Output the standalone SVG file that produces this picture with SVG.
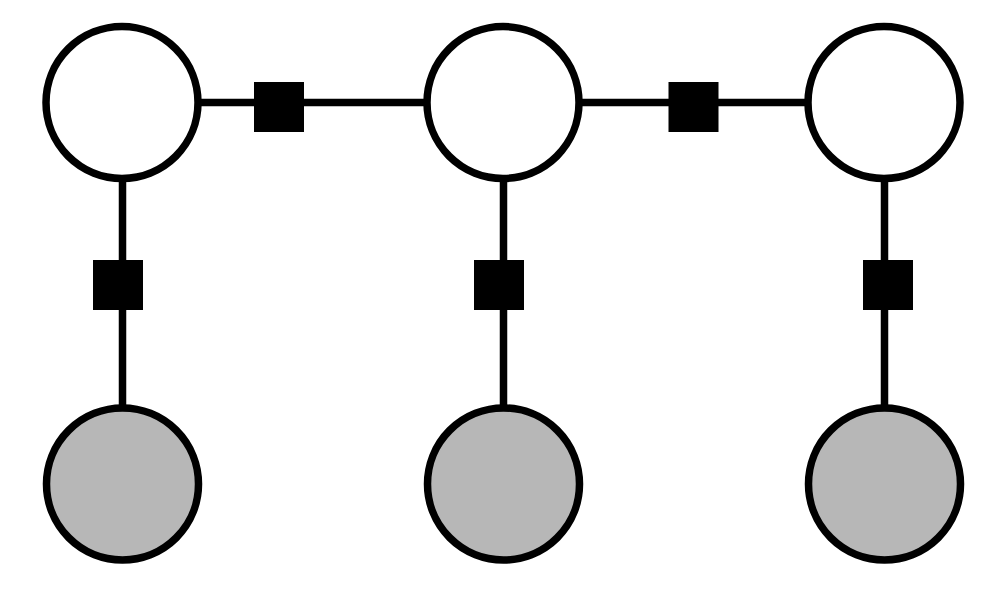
<svg xmlns="http://www.w3.org/2000/svg" width="1000" height="600" viewBox="0 0 1000 600">
<style>
.edge{stroke:#000;stroke-width:7.5;fill:none}
.var{stroke:#000;stroke-width:7.5;fill:#fff}
.obs{stroke:#000;stroke-width:7.5;fill:#b7b7b7}
.factor{fill:#000}
</style>
<rect width="1000" height="600" fill="#fff"/>
<g id="connectors">
<line class="edge" x1="122" y1="102.5" x2="884" y2="102.5"/>
<line class="edge" x1="122.5" y1="102.5" x2="122.5" y2="484"/>
<line class="edge" x1="503.5" y1="102.5" x2="503.5" y2="484"/>
<line class="edge" x1="884.5" y1="102.5" x2="884.5" y2="484"/>
</g>
<g id="x1"><circle class="var" cx="122" cy="102.5" r="76"/></g>
<g id="x2"><circle class="var" cx="503" cy="102.5" r="76"/></g>
<g id="x3"><circle class="var" cx="884" cy="102.5" r="76"/></g>
<g id="y1"><circle class="obs" cx="122.5" cy="484" r="76"/></g>
<g id="y2"><circle class="obs" cx="503.5" cy="484" r="76"/></g>
<g id="y3"><circle class="obs" cx="884.5" cy="484" r="76"/></g>
<g id="f12"><rect class="factor" x="254" y="82" width="50" height="50"/></g>
<g id="f23"><rect class="factor" x="668.5" y="82" width="50" height="50"/></g>
<g id="g1"><rect class="factor" x="93" y="260" width="50" height="50"/></g>
<g id="g2"><rect class="factor" x="474" y="260" width="50" height="50"/></g>
<g id="g3"><rect class="factor" x="863" y="260" width="50" height="50"/></g>
</svg>
